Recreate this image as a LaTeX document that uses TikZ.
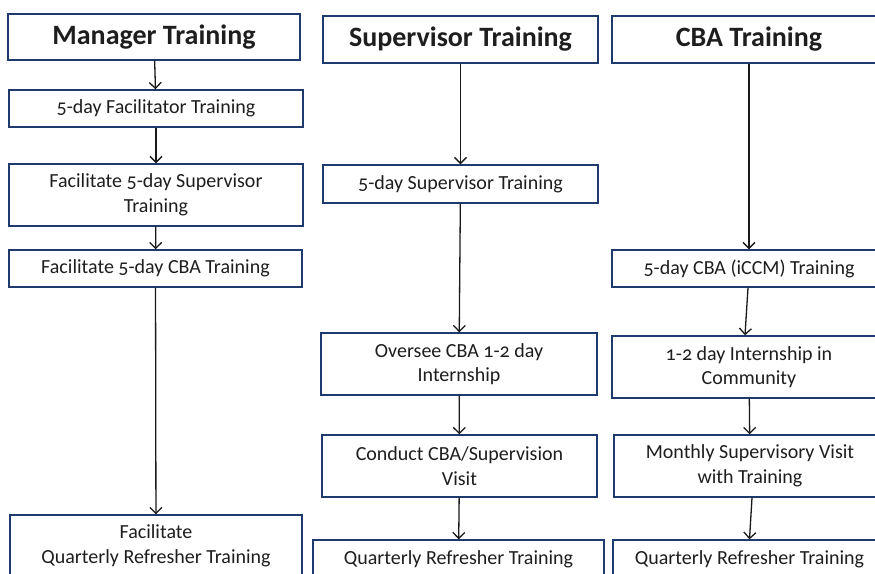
\documentclass[tikz,border=0pt]{standalone}
\usepackage{fontspec}
\setmainfont{Carlito}[Numbers=OldStyle]
\usetikzlibrary{arrows.meta}
\definecolor{boxblue}{HTML}{1F3B6E}
\definecolor{txt}{HTML}{1E1E1E}
\begin{document}
\begin{tikzpicture}[x=1pt,y=-1pt,
 box/.style={draw=boxblue,line width=1.4pt,fill=white,text=txt,align=center,inner sep=0pt,font=\fontsize{20}{24.5}\selectfont},
 title/.style={box,font=\fontsize{28}{30}\selectfont\bfseries},
 arr/.style={draw=black!90,line width=1.3pt,-{Straight Barb[length=6pt,width=12pt]}}]
\useasboundingbox (0,0) rectangle (875,573);
\begin{scope}
\clip (0,0) rectangle (875,573);
% column 1
\node[title, minimum width=292pt, minimum height=46pt] (m0) at (154,37) {Manager Training};
\node[box, minimum width=294pt, minimum height=37pt] (m1) at (156,108.5) {5-day Facilitator Training};
\node[box, minimum width=294pt, minimum height=62pt] (m2) at (156,195) {Facilitate 5-day Supervisor\\Training};
\node[box, minimum width=293pt, minimum height=37pt] (m3) at (155.5,268.5) {Facilitate 5-day CBA Training};
\node[box, minimum width=292pt, minimum height=62pt] (m4) at (156,546) {Facilitate\\Quarterly Refresher Training};
% column 2
\node[title, minimum width=275pt, minimum height=47pt] (s0) at (460.5,39.5) {Supervisor Training};
\node[box, minimum width=275pt, minimum height=38pt] (s1) at (460.5,184) {5-day Supervisor Training};
\node[box, minimum width=276pt, minimum height=62pt] (s2) at (459,364) {Oversee CBA 1-2 day\\Internship};
\node[box, minimum width=275pt, minimum height=62pt] (s3) at (459.5,466) {Conduct CBA/Supervision\\Visit};
\node[box, minimum width=291pt, minimum height=38pt] (s4) at (458.5,559) {Quarterly Refresher Training};
% column 3
\node[title, minimum width=274pt, minimum height=47pt] (c0) at (749,39.5) {CBA Training};
\node[box, minimum width=274pt, minimum height=37pt] (c1) at (749,268.5) {5-day CBA (iCCM) Training};
\node[box, minimum width=274pt, minimum height=62pt] (c2) at (749,367) {1-2 day Internship in\\Community};
\node[box, minimum width=272pt, minimum height=62pt] (c3) at (750,466) {Monthly Supervisory Visit\\with Training};
\node[box, minimum width=273pt, minimum height=38pt] (c4) at (749.5,559) {Quarterly Refresher Training};
% arrows
\draw[arr] (m0) -- (m1);
\draw[arr] (m1) -- (m2);
\draw[arr] (m2) -- (m3);
\draw[arr] (m3) -- (m4);
\draw[arr] (s0) -- (s1);
\draw[arr] (s1) -- (s2);
\draw[arr] (s2) -- (s3);
\draw[arr] (s3) -- (s4);
\draw[arr] (c0) -- (c1);
\draw[arr] ([xshift=-1pt]c1.south) -- ([xshift=-4pt]c2.north);
\draw[arr] (c2) -- (c3);
\draw[arr] ([xshift=2pt]c3.south) -- (c4.north);
\end{scope}
\end{tikzpicture}
\end{document}
